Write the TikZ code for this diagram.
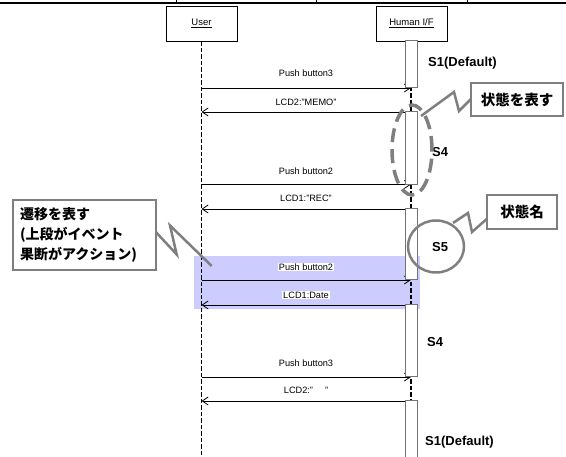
\documentclass[tikz,border=0pt]{standalone}
\usepackage{fontspec}
\setmainfont{Liberation Sans}
\newfontfamily\jp{Noto Sans CJK JP}
\usetikzlibrary{arrows.meta,shapes.geometric}
\definecolor{cg}{HTML}{7F7F7F}
\definecolor{bandc}{HTML}{CCCCFF}
\begin{document}
\begin{tikzpicture}[x=1pt,y=-1pt,
  hdr/.style={draw=black, line width=0.7pt, fill=white, minimum width=71pt, minimum height=35pt, inner sep=0pt, font=\fontsize{9.5}{10}\selectfont},
  life/.style={line width=1.6pt, dash pattern=on 4.5pt off 2pt},
  actbar/.style={draw=black!55, fill=white, line width=1pt},
  msg/.style={line width=0.8pt, -{Straight Barb[length=6pt,width=8pt,line width=0.8pt]}},
  mlab/.style={fill=white, inner sep=1pt, font=\fontsize{9.2}{10}\selectfont},
  slab/.style={font=\fontsize{13}{14}\selectfont\bfseries, anchor=west, inner sep=0pt},
  callout/.style={draw=cg, line width=2.8pt, fill=white, inner sep=0pt, font=\jp\bfseries\fontsize{14.5}{20}\selectfont},
  zig/.style={draw=cg, line width=2.5pt, line join=miter},
  statering/.style={draw=cg, ellipse, inner sep=0pt},
]
\useasboundingbox (0,0) rectangle (566,457);
% table edge at top
\draw[line width=1.8pt] (0,3.3) -- (566,3.3);
\foreach \xx in {176.7,316.7,467.7} \draw[line width=1.4pt] (\xx,0) -- (\xx,3.3);

% highlight band
\fill[bandc] (194,256) rectangle (420,309.3);

% header boxes
\node[hdr] (user) at (201.5,23.5) {\underline{User}};
\node[hdr] (hif) at (411.5,23.5) {\underline{Human I/F}};

% lifelines
\coordinate (uend) at (201.5,460);
\coordinate (hend) at (411,460);
\draw[life] (user.south) -- (uend);
\draw[life] (hif.south -| hend) -- (hend);

% message end points
\foreach \n/\yy in {1/88,2/112,3/184.5,4/209,5/280,6/305,7/377,8/401}{
  \coordinate (u\n) at (201.5,\yy);
  \coordinate (h\n) at (411,\yy);
}
% messages
\draw[msg] (u1) -- (h1);
\draw[msg] (h2) -- (u2);
\draw[msg] (u3) -- (h3);
\draw[msg] (h4) -- (u4);
\draw[msg] (u5) -- (h5);
\draw[msg] (h6) -- (u6);
\draw[msg] (u7) -- (h7);
\draw[msg] (h8) -- (u8);

% activation bars
\path[actbar] (405,41) rectangle (417,88);
\path[actbar] (405,112) rectangle (417,184.5);
\path[actbar] (405,209) rectangle (417,280);
\path[actbar] (405,305) rectangle (417,377);
\path[actbar] (405,401) rectangle (417,470);

% message labels
\node[mlab] (l1) at (306,73.5) {Push button3};
\node[mlab] (l2) at (306,102.5) {LCD2:”MEMO”};
\node[mlab] (l3) at (306,171) {Push button2};
\node[mlab] (l4) at (306,198.5) {LCD1:”REC”};
\node[mlab] (l5) at (306,267) {Push button2};
\node[mlab] (l6) at (306,295) {LCD1:Date};
\node[mlab] (l7) at (306,363) {Push button3};
\node[mlab] (l8) at (306,390.5) {LCD2:”\hspace{12pt}”};

% state labels
\node[slab] (s1a) at (428,62.7) {S1(Default)};
\node[slab] (s4a) at (432,151.7) {S4};
\node[slab] (s5) at (432,247) {S5};
\node[slab] (s4b) at (427,341.7) {S4};
\node[slab] (s1b) at (425,441.7) {S1(Default)};

% state marks
\node[statering, line width=3.5pt, dash pattern=on 14pt off 7pt, minimum width=40pt, minimum height=90pt] (st4) at (412,150) {};
\node[statering, line width=2.5pt, minimum width=56pt, minimum height=52pt] (st5) at (436,246.5) {};

% callout connectors
\draw[zig] (421,116) -- (454,92) -- (459,111) -- (473,97);
\draw[zig] (453,223) -- (468,213) -- (472,232) -- (489,217);
\draw[zig] (154,230) -- (176.7,254.5) -- (170,225.5) -- (211.7,266);

% callouts
\node[callout, minimum width=92pt, minimum height=33pt] (c1) at (517,99.5) {状態を表す};
\node[callout, minimum width=70pt, minimum height=34pt] (c2) at (522,212) {状態名};
\node[callout, minimum width=143pt, minimum height=70pt, align=left, text width=129pt, font=\jp\bfseries\fontsize{14}{20}\selectfont] (c3) at (84.5,235) {遷移を表す\\(上段がイベント\\果断がアクション)};
\end{tikzpicture}
\end{document}
